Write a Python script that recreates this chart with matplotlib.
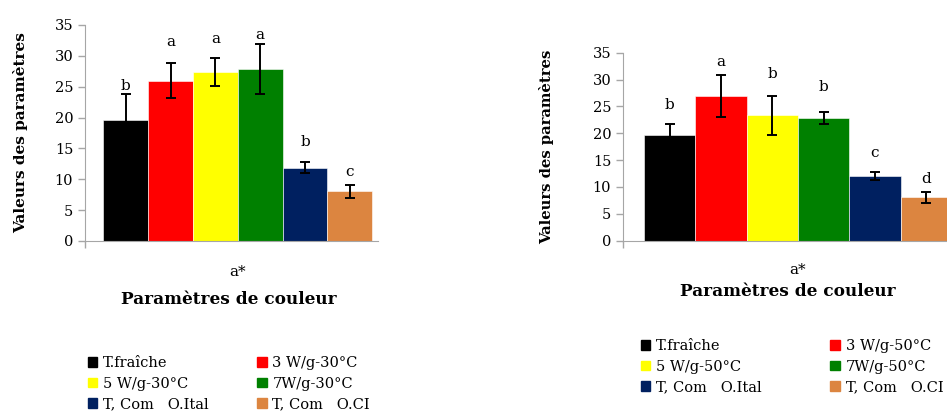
import numpy as np
import matplotlib.pyplot as plt
from matplotlib.patches import Patch
from matplotlib.transforms import blended_transform_factory

plt.rcParams['font.family'] = ['DejaVu Serif', 'Liberation Serif']

# donnees (a*)
traitements_30 = ["T.fraîche", "3 W/g-30°C", "5 W/g-30°C", "7W/g-30°C",
                  "T, Com   O.Ital", "T, Com   O.CI"]
traitements_50 = ["T.fraîche", "3 W/g-50°C", "5 W/g-50°C", "7W/g-50°C",
                  "T, Com   O.Ital", "T, Com   O.CI"]
couleurs = ["#000000", "#FF0000", "#FFFF00", "#008000", "#002060", "#DC8540"]

val_30 = [19.6, 26.0, 27.4, 27.9, 11.9, 8.05]
err_30 = [4.3, 2.8, 2.3, 4.1, 0.85, 1.05]
lettres_30 = ["b", "a", "a", "a", "b", "c"]
lettre_y_30 = [25.1, 32.3, 32.7, 33.4, 16.1, 11.2]

val_50 = [19.6, 27.0, 23.35, 22.9, 12.05, 8.1]
err_50 = [2.1, 3.9, 3.6, 1.1, 0.7, 1.0]
lettres_50 = ["b", "a", "b", "b", "c", "d"]
lettre_y_50 = [25.3, 33.2, 31.0, 28.7, 16.3, 11.5]

categorie = "a*"

W, H = 947, 412
fig = plt.figure(figsize=(9.47, 4.12), dpi=100)


def panneau(rect, vals, errs, lettres, lettre_y, ylabel_x, xlab_y, cat_y, ylab_size):
    ax = fig.add_axes(rect)
    x = np.arange(len(vals))
    bars = ax.bar(x, vals, width=1.0, color=couleurs, edgecolor='white', linewidth=0.4)
    ax.errorbar(x, vals, yerr=errs, fmt='none', ecolor='black', elinewidth=1.4,
                capsize=3.5, capthick=1.4)
    for xi, l, ly in zip(x, lettres, lettre_y):
        ax.text(xi, ly, l, ha='center', va='center', fontsize=11)
    ax.set_xlim(-0.91, 5.63)
    ax.set_ylim(0, 35)
    ax.set_yticks(np.arange(0, 36, 5))
    ax.set_xticks([-0.91])
    ax.set_xticklabels([""])
    for s in ['top', 'right']:
        ax.spines[s].set_visible(False)
    for s in ['left', 'bottom']:
        ax.spines[s].set_color('#A6A6A6')
    ax.tick_params(axis='both', colors='#A6A6A6', length=5, width=1, labelcolor='black',
                   labelsize=10.5)
    ax.set_ylabel("Valeurs des paramètres", fontsize=ylab_size, fontweight='bold')
    ax.yaxis.set_label_coords(ylabel_x, 0.5)
    tr = blended_transform_factory(ax.transData, fig.transFigure)
    ax.text(2.5, cat_y, categorie, transform=tr, ha='center', va='center', fontsize=11)
    ax.text(2.5 - 0.2, xlab_y, "Paramètres de couleur", transform=tr, ha='center',
            va='center', fontsize=12.2, fontweight='bold')
    return ax, bars


ax1, bars1 = panneau([85 / W, 1 - 241 / H, 293 / W, 216 / H], val_30, err_30,
                     lettres_30, lettre_y_30, -0.193, 1 - 299 / H, 1 - 272 / H, 11)
ax2, bars2 = panneau([623 / W, 1 - 240.7 / H, 335.5 / W, 188 / H], val_50, err_50,
                     lettres_50, lettre_y_50, -0.205, 1 - 292 / H, 1 - 270 / H, 10.6)

ordre = [0, 2, 4, 1, 3, 5]
h30 = [Patch(color=couleurs[i]) for i in ordre]
fig.legend(h30, [traitements_30[i] for i in ordre], ncol=2, frameon=False,
           loc='upper left', bbox_to_anchor=(88 / W, 1 - 356 / H), borderpad=0,
           borderaxespad=0, handlelength=0.65, handleheight=0.65, handletextpad=0.4,
           columnspacing=3.3, labelspacing=0.45, fontsize=10.5)
h50 = [Patch(color=couleurs[i]) for i in ordre]
fig.legend(h50, [traitements_50[i] for i in ordre], ncol=2, frameon=False,
           loc='upper left', bbox_to_anchor=(641 / W, 1 - 339 / H), borderpad=0,
           borderaxespad=0, handlelength=0.65, handleheight=0.65, handletextpad=0.4,
           columnspacing=4.7, labelspacing=0.45, fontsize=10.5)

fig.savefig("out.png", dpi=100)
